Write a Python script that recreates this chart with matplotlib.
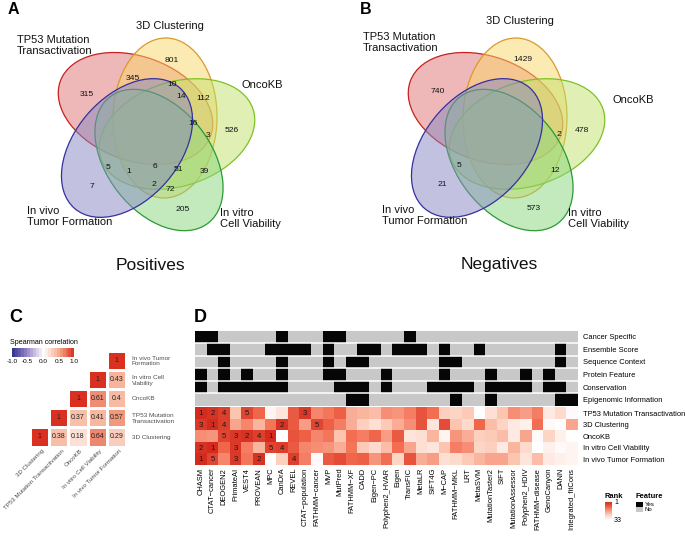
import numpy as np
import matplotlib.pyplot as plt
from matplotlib.patches import Ellipse, Rectangle
from matplotlib.colors import LinearSegmentedColormap, ListedColormap, to_rgba
from matplotlib.transforms import ScaledTranslation

plt.rcParams['font.family'] = ['Liberation Sans', 'DejaVu Sans']
plt.rcParams['axes.unicode_minus'] = False

W, H = 685, 542

# ---------------- DATA ----------------
venn_sets = ['TP53 Mutation\nTransactivation', '3D Clustering', 'OncoKB',
             'In vitro\nCell Viability', 'In vivo\nTumor Formation']
pos_counts = [315, 801, 345, 10, 14, 112, 526, 16, 3, 5, 1, 6, 51, 39, 7, 2, 72, 205]
neg_counts = [1429, 740, 478, 2, 5, 12, 21, 573]

corr_labels = ['3D Clustering', 'TP53 Mutation Transactivation', 'OncoKB',
               'In vitro Cell Viability', 'In vivo Tumor Formation']
corr_row_labels = ['3D Clustering', 'TP53 Mutation\nTransactivation', 'OncoKB',
                   'In vitro Cell\nViability', 'In vivo Tumor\nFormation']
corr = [[1.00, 0.38, 0.18, 0.64, 0.29],
        [0.38, 1.00, 0.37, 0.41, 0.57],
        [0.18, 0.37, 1.00, 0.61, 0.40],
        [0.64, 0.41, 0.61, 1.00, 0.43],
        [0.29, 0.57, 0.40, 0.43, 1.00]]

methods = ['CHASM', 'CTAT-cancer', 'DEOGEN2', 'PrimateAI', 'VEST4', 'PROVEAN', 'MPC',
           'CanDrA', 'REVEL', 'CTAT-population', 'FATHMM-cancer', 'MVP', 'MutPred',
           'FATHMM-XF', 'CADD', 'Eigen-PC', 'Polyphen2_HVAR', 'Eigen', 'TransFIC',
           'MetaLR', 'SIFT4G', 'M-CAP', 'FATHMM-MKL', 'LRT', 'MetaSVM',
           'MutationTaster2', 'SIFT', 'MutationAssessor', 'Polyphen2_HDIV',
           'FATHMM-disease', 'GenoCanyon', 'DANN', 'Integrated_fitCons']

feature_names = ['Cancer Specific', 'Ensemble Score', 'Sequence Context',
                 'Protein Feature', 'Conservation', 'Epigenomic Information']
cancer_specific = [1,1,0,0,0,0,0,1,0,0,0,1,1,0,0,0,0,0,1,0,0,0,0,0,0,0,0,0,0,0,0,0,0]
ensemble_score  = [0,1,1,0,0,0,1,1,1,1,0,1,0,0,1,1,0,1,1,1,0,1,0,0,1,0,0,0,0,0,0,1,0]
sequence_ctx    = [0,0,1,0,0,0,0,1,0,0,0,1,0,1,1,0,0,0,0,0,0,1,1,0,0,0,0,0,0,0,0,1,0]
protein_feature = [1,0,1,0,1,0,0,1,0,0,0,1,1,0,0,0,1,0,0,0,0,1,0,0,0,1,0,0,1,0,1,0,0]
conservation    = [1,0,1,1,1,1,1,1,0,0,0,0,1,1,1,0,1,0,0,0,1,1,1,1,0,1,1,1,1,0,1,1,0]
epigenomic      = [0,0,0,0,0,0,0,0,0,0,0,0,0,1,1,0,0,0,0,0,0,0,1,0,0,1,0,0,0,0,0,1,1]

assays = ['TP53 Mutation Transactivation', '3D Clustering', 'OncoKB',
          'In vitro Cell Viability', 'In vivo Tumor Formation']
rank_tp53    = [1,2,4,22,5,10,31,28,8,3,14,12,9,19,20,21,15,16,13,7,11,24,25,23,33,27,22,15,17,13,29,26,32]
rank_3d      = [3,1,4,18,14,20,12,2,8,17,5,9,13,19,24,27,23,19,15,7,28,6,22,26,10,21,25,29,30,11,32,33,18]
rank_oncokb  = [15,16,5,3,2,4,1,33,7,9,14,12,22,11,13,10,17,8,28,27,20,31,16,19,24,23,21,29,18,32,25,30,33]
rank_invitro = [2,1,10,3,13,20,5,4,8,14,15,16,19,12,23,26,21,11,18,27,28,22,13,15,25,24,29,20,26,33,30,32,31]
rank_invivo  = [1,5,14,3,12,2,33,24,4,13,32,8,6,10,9,16,11,25,7,19,17,27,26,23,20,18,18,22,28,21,29,30,31]

# ---------------- FIGURE ----------------
fig = plt.figure(figsize=(W / 100, H / 100), dpi=100)


def px_axes(x0, y0, x1, y1):
    return fig.add_axes([x0 / W, 1 - y1 / H, (x1 - x0) / W, (y1 - y0) / H])


ov = px_axes(0, 0, W, H)
ov.set_xlim(0, W)
ov.set_ylim(H, 0)
ov.axis('off')

# ---- A / B: five-set Venn diagrams ----
ell_centers = [(135.5, 108.5), (165, 118), (177, 134), (159, 160), (127, 148)]
ell_angles = [20, 91, 162, 52, 131]
ell_face = ['#E07373', '#FAD769', '#C3E169', '#87D77D', '#8787C3']
ell_edge = ['#C8201E', '#D99A2B', '#7DC224', '#2A9A34', '#35309E']

pos_xy = [(86.7, 94), (172, 60.7), (132.7, 78), (171.7, 84.3), (180.7, 96.7), (202.7, 99),
          (231.7, 131), (192.7, 123.3), (208.3, 135.7), (107.7, 167.7), (128.3, 171.7),
          (155, 166.7), (178.3, 169.3), (204, 171.7), (91.7, 186), (154.3, 185),
          (170, 189.3), (182.7, 209.3)]
neg_xy = [(522.7, 59.3), (437.3, 91.7), (581.7, 130), (559, 135), (459, 165.7),
          (555.3, 170), (442.3, 185), (534, 208.3)]

label_xy_A = [(17, 35, 'left'), (170, 21, 'center'), (242, 80, 'left'),
              (220, 208, 'left'), (27, 206, 'left')]
label_xy_B = [(363, 32, 'left'), (520, 16, 'center'), (613, 95, 'left'),
              (568, 208, 'left'), (382, 205, 'left')]


def draw_venn(dx, counts, count_xy, label_xy, title, title_x):
    for (cx, cy), ang, fc, ec in zip(ell_centers, ell_angles, ell_face, ell_edge):
        ov.add_patch(Ellipse((cx + dx, cy), 160, 104, angle=ang,
                             facecolor=to_rgba(fc, 0.5), edgecolor=ec, lw=0.9))
    for n, (x, y) in zip(counts, count_xy):
        ov.text(x, y, str(n), ha='center', va='center', fontsize=6.1, color='#111111')
    for name, (x, y, ha) in zip(venn_sets, label_xy):
        ov.text(x, y, name, ha=ha, va='top', fontsize=8, linespacing=1.15, color='#111111')
    ov.text(title_x, 265, title, ha='center', va='center', fontsize=12.5, color='#111111')


draw_venn(0, pos_counts, pos_xy, label_xy_A, 'Positives', 150)
draw_venn(350, neg_counts, neg_xy, label_xy_B, 'Negatives', 499)

# panel letters
ov.text(8, 2, 'A', fontsize=11.5, fontweight='bold', va='top')
ov.text(360, 2, 'B', fontsize=11.5, fontweight='bold', va='top')
ov.text(9, 309, 'C', fontsize=13, fontweight='bold', va='top')
ov.text(194, 309, 'D', fontsize=13, fontweight='bold', va='top')

# ---- C: correlation triangle ----
corr_cmap = LinearSegmentedColormap.from_list(
    'corr', ['#30318A', '#9C8ACB', '#FFFFFF', '#F6A98C', '#D9301F'])
cm = np.array(corr)
n = len(corr_labels)
mask = np.array([[j < i for j in range(n)] for i in range(n)])
ax_c = px_axes(30, 350.5, 126, 446.5)
ax_c.pcolormesh(np.arange(n + 1), np.arange(n + 1), np.ma.masked_array(cm, mask),
                cmap=corr_cmap, vmin=-1, vmax=1, edgecolors='white', linewidth=0.8)
for i in range(n):
    for j in range(n):
        if j >= i:
            ax_c.text(j + 0.5, i + 0.5, f'{cm[i, j]:g}', ha='center', va='center',
                      fontsize=5, color='#222222')
ax_c.set_xlim(0, n)
ax_c.set_ylim(0, n)
ax_c.yaxis.tick_right()
ax_c.set_yticks(np.arange(n) + 0.5, corr_row_labels)
ax_c.set_xticks(np.arange(n) + 0.5, corr_labels)
ax_c.tick_params(axis='y', length=0, labelsize=4.6, labelcolor='#4D4D4D', pad=4.3)
ax_c.tick_params(axis='x', length=0, labelsize=4.4, labelcolor='#4D4D4D', pad=1.5)
for lab in ax_c.get_yticklabels():
    lab.set_linespacing(1.2)
shift = ScaledTranslation(2.5 / 100, 0, fig.dpi_scale_trans)
for lab in ax_c.get_xticklabels():
    lab.set_rotation(45)
    lab.set_ha('right')
    lab.set_rotation_mode('anchor')
    lab.set_transform(lab.get_transform() + shift)
for s in ax_c.spines.values():
    s.set_visible(False)

ax_cb = px_axes(10.5, 348, 76, 357)
edges = np.linspace(-1, 1, 22)
ax_cb.pcolormesh(edges, [0, 1], ((edges[:-1] + edges[1:]) / 2)[None, :],
                 cmap=corr_cmap, vmin=-1, vmax=1)
ax_cb.set_xlim(-1.05, 1.05)
ax_cb.set_yticks([])
ax_cb.set_xticks([-1, -0.5, 0, 0.5, 1], ['-1.0', '-0.5', '0.0', '0.5', '1.0'])
ax_cb.tick_params(axis='x', length=0, labelsize=4.6, pad=1.5)
for s in ax_cb.spines.values():
    s.set_visible(False)
ov.text(10, 342, 'Spearman correlation', fontsize=5.1, va='center')

# ---- D: feature matrix + rank heatmap ----
feat = np.array([cancer_specific, ensemble_score, sequence_ctx,
                 protein_feature, conservation, epigenomic])
m = len(methods)
ax_f = px_axes(195, 330.5, 578, 406)
ax_f.pcolormesh(np.arange(m + 1), np.arange(len(feature_names) + 1), feat,
                cmap=ListedColormap(['#C9C8C8', '#060606']), vmin=0, vmax=1)
ax_f.set_xlim(0, m)
ax_f.set_ylim(len(feature_names), 0)
for y in range(1, len(feature_names)):
    ax_f.axhline(y, color='white', lw=1.1)
ax_f.set_xticks([])
ax_f.yaxis.tick_right()
ax_f.set_yticks(np.arange(len(feature_names)) + 0.5, feature_names)
ax_f.tick_params(axis='y', length=0, labelsize=5.4, pad=3.5)
for s in ax_f.spines.values():
    s.set_visible(False)

rank_cmap = LinearSegmentedColormap.from_list(
    'rank', [(0, '#D42B1E'), (0.3, '#F26A4E'), (0.65, '#FCC3AD'), (1, '#FFFFFF')])
ranks = np.array([rank_tp53, rank_3d, rank_oncokb, rank_invitro, rank_invivo])
ax_r = px_axes(195, 407.3, 578, 465)
ax_r.pcolormesh(np.arange(m + 1), np.arange(len(assays) + 1), ranks,
                cmap=rank_cmap, vmin=1, vmax=33)
for i in range(len(assays)):
    for j in range(m):
        if ranks[i, j] <= 5:
            ax_r.text(j + 0.5, i + 0.55, str(ranks[i, j]), ha='center', va='center',
                      fontsize=5.6, color='#1A1A1A')
ax_r.set_xlim(0, m)
ax_r.set_ylim(len(assays), 0)
ax_r.yaxis.tick_right()
ax_r.set_yticks(np.arange(len(assays)) + 0.5, assays)
ax_r.set_xticks(np.arange(m) + 0.5, [s.replace('-', '\u2212') for s in methods],
                rotation=90)
ax_r.tick_params(axis='y', length=0, labelsize=5.4, pad=3.5)
ax_r.tick_params(axis='x', length=0, labelsize=5.4, pad=2)
for s in ax_r.spines.values():
    s.set_visible(False)

# rank legend
ax_rl = px_axes(605, 502, 612, 520)
lv = np.linspace(1, 33, 40)
ax_rl.pcolormesh([0, 1], lv, ((lv[:-1] + lv[1:]) / 2)[:, None], cmap=rank_cmap, vmin=1, vmax=33)
ax_rl.set_ylim(33, 1)
ax_rl.set_xticks([])
ax_rl.yaxis.tick_right()
ax_rl.set_yticks([1, 33], ['1', '33'])
ax_rl.tick_params(axis='y', length=0, labelsize=5, pad=1.5)
for s in ax_rl.spines.values():
    s.set_visible(False)
ov.text(605, 497, 'Rank', fontsize=5.4, fontweight='bold', va='center')

# feature legend
ov.text(636, 497, 'Feature', fontsize=5.4, fontweight='bold', va='center')
ov.add_patch(Rectangle((636.5, 502), 7, 5, facecolor='#060606', edgecolor='none'))
ov.add_patch(Rectangle((636.5, 507), 7, 5, facecolor='#C9C8C8', edgecolor='none'))
ov.text(645, 504.3, 'Yes', fontsize=4.3, va='center')
ov.text(645, 509.8, 'No', fontsize=4.3, va='center')

fig.savefig('out.png', dpi=100)
